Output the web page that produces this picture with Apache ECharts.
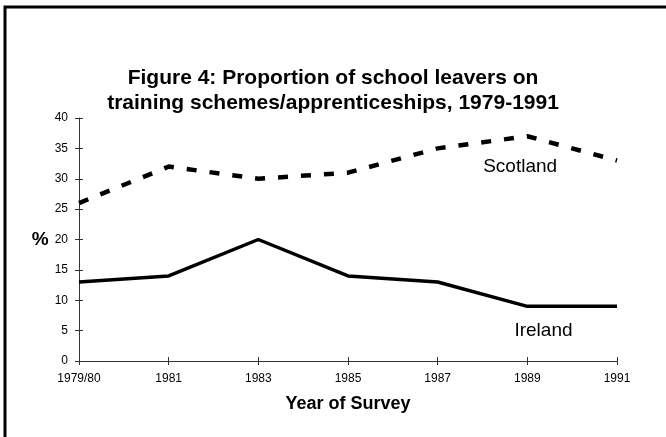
<!DOCTYPE html>
<html><head><meta charset="utf-8">
<script src="https://cdn.jsdelivr.net/npm/echarts@6/dist/echarts.min.js"></script>
<style>html,body{margin:0;padding:0;background:#fff}#c{width:666px;height:437px}</style>
</head><body><div id="c"></div>
<script>
const years = ['1979/80','1981','1983','1985','1987','1989','1991'];
const scotland = [26, 32, 30, 31, 35, 37, 33];
const ireland = [13, 14, 20, 14, 13, 9, 9];
const yTicks = {min: 0, max: 40, interval: 5};
const titleLines = ['Figure 4: Proportion of school leavers on', 'training schemes/apprenticeships, 1979-1991'];
const FONT = '"Liberation Sans", Arial, sans-serif';

const chart = echarts.init(document.getElementById('c'), null, {renderer: 'canvas'});
const axisLineStyle = {color: '#333', width: 1};
const grid = {left: 79, right: 49, top: 118, bottom: 76};
const xBase = {type: 'category', data: years, boundaryGap: false, position: 'bottom'};
const yBase = {type: 'value', min: yTicks.min, max: yTicks.max, interval: yTicks.interval, position: 'left'};
chart.setOption({
  animation: false,
  backgroundColor: '#fff',
  title: {
    text: titleLines.join('\n'), left: 'center', top: 61,
    textStyle: {fontFamily: FONT, fontWeight: 'bold', fontSize: 21, lineHeight: 25, color: '#000'}
  },
  grid: grid,
  xAxis: [
    Object.assign({}, xBase, {
      name: 'Year of Survey', nameLocation: 'middle', nameGap: 34,
      nameTextStyle: {fontFamily: FONT, fontWeight: 'bold', fontSize: 18, color: '#000'},
      axisLine: {onZero: false, lineStyle: axisLineStyle},
      axisTick: {show: true, length: 4, inside: false, lineStyle: axisLineStyle},
      axisLabel: {fontFamily: FONT, fontSize: 12, color: '#000', margin: 12},
      splitLine: {show: false}
    }),
    Object.assign({}, xBase, {
      axisLine: {show: false}, axisTick: {show: true, length: 4, inside: true, lineStyle: axisLineStyle},
      axisLabel: {show: false}, splitLine: {show: false}
    })
  ],
  yAxis: [
    Object.assign({}, yBase, {
      name: '%', nameLocation: 'middle', nameGap: 28, nameRotate: 0,
      nameTextStyle: {fontFamily: FONT, fontWeight: 'bold', fontSize: 19, color: '#000'},
      axisLine: {show: true, onZero: false, lineStyle: axisLineStyle},
      axisTick: {show: true, length: 4, inside: false, lineStyle: axisLineStyle},
      axisLabel: {fontFamily: FONT, fontSize: 12, color: '#000', margin: 11},
      splitLine: {show: false}
    }),
    Object.assign({}, yBase, {
      axisLine: {show: false}, axisTick: {show: true, length: 4, inside: true, lineStyle: axisLineStyle},
      axisLabel: {show: false}, splitLine: {show: false}
    })
  ],
  series: [
    {name: 'Scotland', type: 'line', data: scotland, xAxisIndex: 0, yAxisIndex: 0,
     symbol: 'none', lineStyle: {color: '#000', width: 4.5, type: [10, 13]}},
    {name: 'Ireland', type: 'line', data: ireland, xAxisIndex: 0, yAxisIndex: 0,
     symbol: 'none', lineStyle: {color: '#000', width: 3.5, type: 'solid'}}
  ]
});

function px(idx, val) {
  const i0 = Math.floor(idx), f = idx - i0;
  const a = chart.convertToPixel({xAxisIndex: 0, yAxisIndex: 0}, [i0, val]);
  const b = chart.convertToPixel({xAxisIndex: 0, yAxisIndex: 0}, [i0 + 1, val]);
  return [a[0] + (b[0] - a[0]) * f, a[1]];
}
const sPos = px(4.92, 31.9);
const iPos = px(5.18, 4.9);
chart.setOption({
  graphic: [
    {type: 'rect', shape: {x: 5, y: 7, width: 700, height: 500}, style: {fill: 'none', stroke: '#000', lineWidth: 3}, silent: true},
    {type: 'text', x: sPos[0], y: sPos[1], style: {text: 'Scotland', font: '19px ' + FONT, fill: '#000', textAlign: 'center', textVerticalAlign: 'middle'}},
    {type: 'text', x: iPos[0], y: iPos[1], style: {text: 'Ireland', font: '19px ' + FONT, fill: '#000', textAlign: 'center', textVerticalAlign: 'middle'}}
  ]
});
</script>
</body></html>
